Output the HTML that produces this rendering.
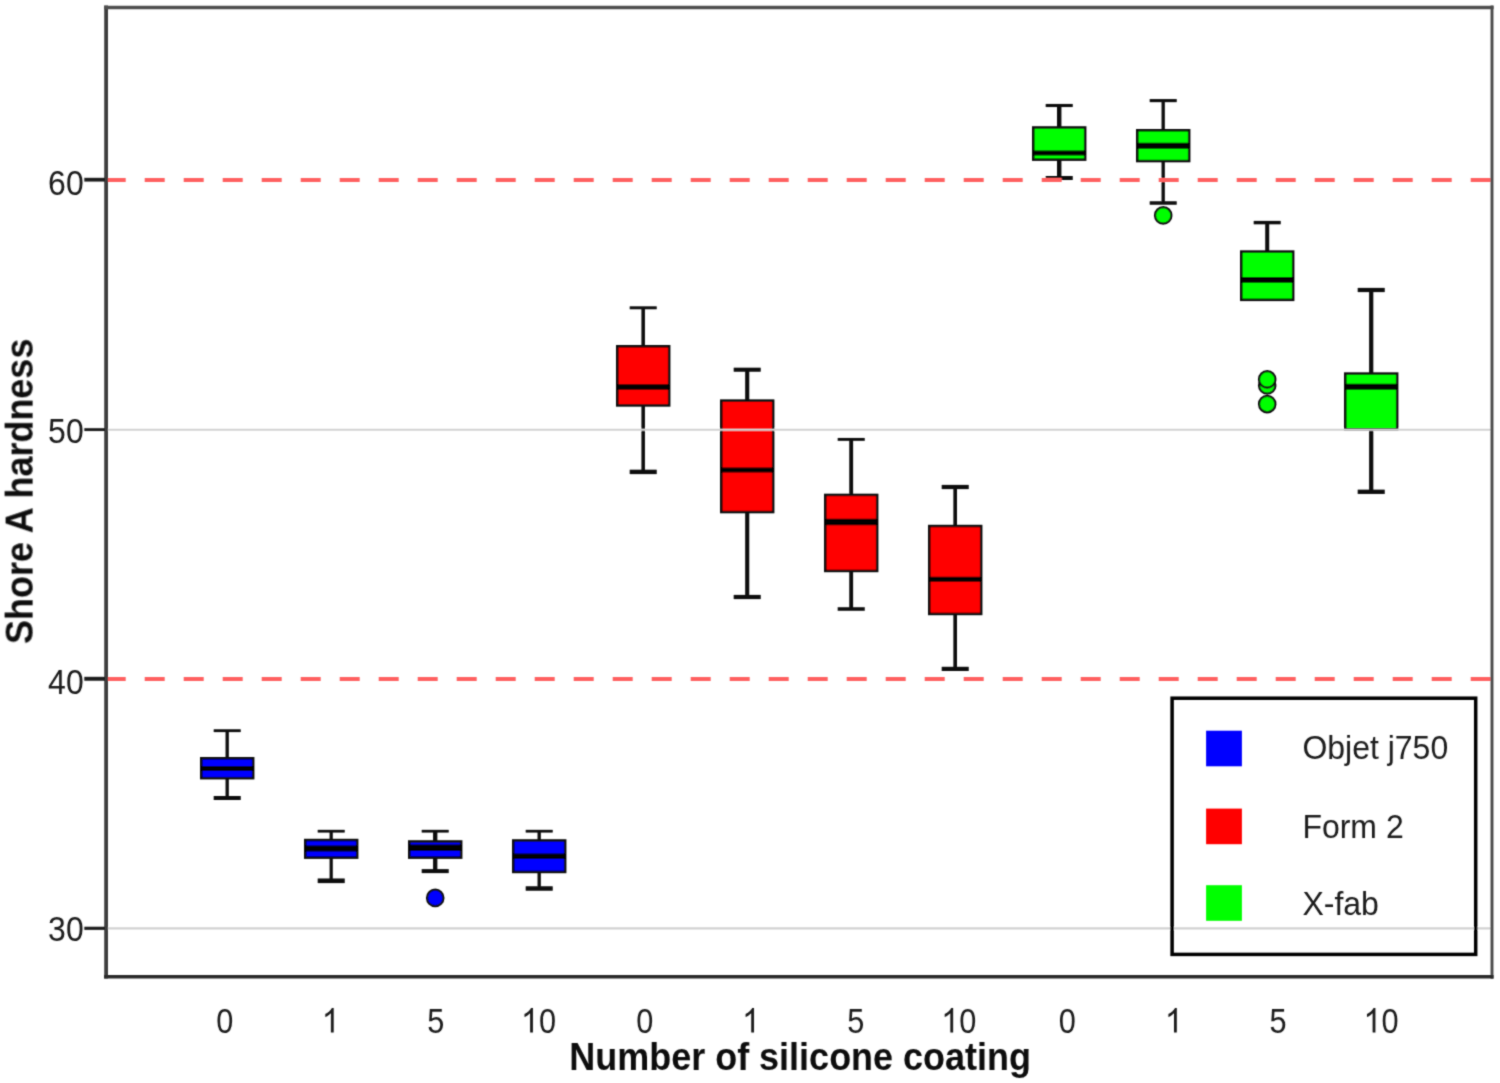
<!DOCTYPE html>
<html><head><meta charset="utf-8"><title>Shore A hardness</title>
<style>
html,body{margin:0;padding:0;background:#fff;}
body{width:1500px;height:1083px;overflow:hidden;font-family:"Liberation Sans",sans-serif;}
svg{display:block;}
</style></head><body>
<svg width="1500" height="1083" viewBox="0 0 1500 1083">
<defs><filter id="soft" x="0" y="0" width="1500" height="1083" filterUnits="userSpaceOnUse"><feConvolveMatrix order="3" kernelMatrix="0.03 0.1 0.03 0.1 0.48 0.1 0.03 0.1 0.03" divisor="1" edgeMode="duplicate" preserveAlpha="false"/></filter></defs>
<rect x="0" y="0" width="1500" height="1083" fill="#ffffff"/>
<g filter="url(#soft)">
<g stroke="#0a0a0a" fill="none">
<line x1="227.2" y1="730.7" x2="227.2" y2="758.0" stroke-width="3.3"/>
<line x1="213.7" y1="730.7" x2="240.7" y2="730.7" stroke-width="2.8"/>
<line x1="227.2" y1="778.4" x2="227.2" y2="798.0" stroke-width="3.3"/>
<line x1="213.7" y1="798.0" x2="240.7" y2="798.0" stroke-width="4.0"/>
<rect x="201.25" y="758.25" width="51.90" height="19.90" fill="#0000ff" stroke-width="2.5"/>
<line x1="201.0" y1="768.5" x2="253.39999999999998" y2="768.5" stroke-width="4.8" stroke="#000"/>
</g>
<g stroke="#0a0a0a" fill="none">
<line x1="331.2" y1="831.2" x2="331.2" y2="839.8" stroke-width="3.2"/>
<line x1="317.7" y1="831.2" x2="344.7" y2="831.2" stroke-width="2.7"/>
<line x1="331.2" y1="857.9" x2="331.2" y2="880.8" stroke-width="3.2"/>
<line x1="317.7" y1="880.8" x2="344.7" y2="880.8" stroke-width="4.6"/>
<rect x="305.25" y="840.05" width="51.90" height="17.60" fill="#0000ff" stroke-width="2.5"/>
<line x1="305.0" y1="848.5" x2="357.4" y2="848.5" stroke-width="6.2" stroke="#000"/>
</g>
<g stroke="#0a0a0a" fill="none">
<line x1="435.2" y1="831.2" x2="435.2" y2="841.2" stroke-width="4.3"/>
<line x1="421.7" y1="831.2" x2="448.7" y2="831.2" stroke-width="2.7"/>
<line x1="435.2" y1="857.9" x2="435.2" y2="871.1" stroke-width="4.3"/>
<line x1="421.7" y1="871.1" x2="448.7" y2="871.1" stroke-width="4.0"/>
<rect x="409.25" y="841.45" width="51.90" height="16.20" fill="#0000ff" stroke-width="2.5"/>
<line x1="409.0" y1="847.8" x2="461.4" y2="847.8" stroke-width="6.6" stroke="#000"/>
<circle cx="435.2" cy="897.9" r="8.2" fill="#0000ff" stroke="#111" stroke-width="2.2"/>
</g>
<g stroke="#0a0a0a" fill="none">
<line x1="539.2" y1="831.2" x2="539.2" y2="840.2" stroke-width="3.3"/>
<line x1="525.7" y1="831.2" x2="552.7" y2="831.2" stroke-width="2.7"/>
<line x1="539.2" y1="872.2" x2="539.2" y2="888.5" stroke-width="3.3"/>
<line x1="525.7" y1="888.5" x2="552.7" y2="888.5" stroke-width="4.4"/>
<rect x="513.25" y="840.45" width="51.90" height="31.50" fill="#0000ff" stroke-width="2.5"/>
<line x1="513.0" y1="856.3" x2="565.4000000000001" y2="856.3" stroke-width="5.6" stroke="#000"/>
</g>
<g stroke="#0a0a0a" fill="none">
<line x1="643.2" y1="307.8" x2="643.2" y2="346.0" stroke-width="3.5"/>
<line x1="629.7" y1="307.8" x2="656.7" y2="307.8" stroke-width="2.9"/>
<line x1="643.2" y1="405.7" x2="643.2" y2="471.9" stroke-width="3.5"/>
<line x1="629.7" y1="471.9" x2="656.7" y2="471.9" stroke-width="4.4"/>
<rect x="617.25" y="346.25" width="51.90" height="59.20" fill="#ff0000" stroke-width="2.5"/>
<line x1="617.0" y1="387.0" x2="669.4000000000001" y2="387.0" stroke-width="5.5" stroke="#000"/>
</g>
<g stroke="#0a0a0a" fill="none">
<line x1="747.2" y1="369.7" x2="747.2" y2="400.4" stroke-width="4.1"/>
<line x1="733.7" y1="369.7" x2="760.7" y2="369.7" stroke-width="4.0"/>
<line x1="747.2" y1="512.3" x2="747.2" y2="597.0" stroke-width="4.1"/>
<line x1="733.7" y1="597.0" x2="760.7" y2="597.0" stroke-width="4.2"/>
<rect x="721.25" y="400.65" width="51.90" height="111.40" fill="#ff0000" stroke-width="2.5"/>
<line x1="721.0" y1="470.0" x2="773.4000000000001" y2="470.0" stroke-width="5.0" stroke="#000"/>
</g>
<g stroke="#0a0a0a" fill="none">
<line x1="851.2" y1="439.4" x2="851.2" y2="494.7" stroke-width="3.8"/>
<line x1="837.7" y1="439.4" x2="864.7" y2="439.4" stroke-width="2.9"/>
<line x1="851.2" y1="571.2" x2="851.2" y2="609.0" stroke-width="3.8"/>
<line x1="837.7" y1="609.0" x2="864.7" y2="609.0" stroke-width="3.6"/>
<rect x="825.25" y="494.95" width="51.90" height="76.00" fill="#ff0000" stroke-width="2.5"/>
<line x1="825.0" y1="522.1" x2="877.4000000000001" y2="522.1" stroke-width="6.5" stroke="#000"/>
</g>
<g stroke="#0a0a0a" fill="none">
<line x1="955.2" y1="487.0" x2="955.2" y2="525.8" stroke-width="3.6"/>
<line x1="941.7" y1="487.0" x2="968.7" y2="487.0" stroke-width="4.2"/>
<line x1="955.2" y1="614.2" x2="955.2" y2="668.9" stroke-width="3.6"/>
<line x1="941.7" y1="668.9" x2="968.7" y2="668.9" stroke-width="4.2"/>
<rect x="929.25" y="526.05" width="51.90" height="87.90" fill="#ff0000" stroke-width="2.5"/>
<line x1="929.0" y1="579.2" x2="981.4000000000001" y2="579.2" stroke-width="5.0" stroke="#000"/>
</g>
<g stroke="#0a0a0a" fill="none">
<line x1="1059.2" y1="105.5" x2="1059.2" y2="127.2" stroke-width="4.4"/>
<line x1="1045.7" y1="105.5" x2="1072.7" y2="105.5" stroke-width="3.1"/>
<line x1="1059.2" y1="159.9" x2="1059.2" y2="178.0" stroke-width="4.4"/>
<line x1="1045.7" y1="178.0" x2="1072.7" y2="178.0" stroke-width="4.0"/>
<rect x="1033.25" y="127.45" width="51.90" height="32.20" fill="#00ff00" stroke-width="2.5"/>
<line x1="1033.0" y1="153.0" x2="1085.4" y2="153.0" stroke-width="5.2" stroke="#000"/>
</g>
<g stroke="#0a0a0a" fill="none">
<line x1="1163.2" y1="100.6" x2="1163.2" y2="130.0" stroke-width="3.3"/>
<line x1="1149.7" y1="100.6" x2="1176.7" y2="100.6" stroke-width="3.1"/>
<line x1="1163.2" y1="161.3" x2="1163.2" y2="203.0" stroke-width="3.3"/>
<line x1="1149.7" y1="203.0" x2="1176.7" y2="203.0" stroke-width="3.4"/>
<rect x="1137.25" y="130.25" width="51.90" height="30.80" fill="#00ff00" stroke-width="2.5"/>
<line x1="1137.0" y1="145.8" x2="1189.4" y2="145.8" stroke-width="6.0" stroke="#000"/>
<circle cx="1163.2" cy="215.4" r="8.2" fill="#00ff00" stroke="#111" stroke-width="2.2"/>
</g>
<g stroke="#0a0a0a" fill="none">
<line x1="1267.2" y1="222.6" x2="1267.2" y2="251.3" stroke-width="4.0"/>
<line x1="1253.7" y1="222.6" x2="1280.7" y2="222.6" stroke-width="3.4"/>
<rect x="1241.25" y="251.55" width="51.90" height="48.30" fill="#00ff00" stroke-width="2.5"/>
<line x1="1241.0" y1="279.8" x2="1293.4" y2="279.8" stroke-width="5.8" stroke="#000"/>
<circle cx="1267.2" cy="385.5" r="8.2" fill="#00ff00" stroke="#111" stroke-width="2.2"/>
<circle cx="1267.2" cy="379.4" r="8.2" fill="#00ff00" stroke="#111" stroke-width="2.2"/>
<circle cx="1267.2" cy="404.1" r="8.2" fill="#00ff00" stroke="#111" stroke-width="2.2"/>
</g>
<g stroke="#0a0a0a" fill="none">
<line x1="1371.2" y1="290.0" x2="1371.2" y2="373.3" stroke-width="4.2"/>
<line x1="1357.7" y1="290.0" x2="1384.7" y2="290.0" stroke-width="4.2"/>
<line x1="1371.2" y1="429.6" x2="1371.2" y2="491.8" stroke-width="4.2"/>
<line x1="1357.7" y1="491.8" x2="1384.7" y2="491.8" stroke-width="4.3"/>
<rect x="1345.25" y="373.55" width="51.90" height="55.80" fill="#00ff00" stroke-width="2.5"/>
<line x1="1345.0" y1="386.7" x2="1397.4" y2="386.7" stroke-width="6.0" stroke="#000"/>
</g>
<line x1="108" y1="429.8" x2="1491" y2="429.8" stroke="#d2d2d2" stroke-width="2.1"/>
<line x1="108" y1="928.4" x2="1491" y2="928.4" stroke="#d2d2d2" stroke-width="2.1"/>
<line x1="105.7" y1="180.1" x2="1491" y2="180.1" stroke="#ff6060" stroke-width="4.0" stroke-dasharray="20 19"/>
<line x1="105.7" y1="679.0" x2="1491" y2="679.0" stroke="#ff6060" stroke-width="4.0" stroke-dasharray="20 19"/>
<g stroke="#3e3e3e" fill="none">
<line x1="106.1" y1="5.6" x2="106.1" y2="978.5" stroke-width="3.8"/>
<line x1="104" y1="7.5" x2="1493.6" y2="7.5" stroke-width="3.3" stroke="#505050"/>
<line x1="1492.0" y1="5.6" x2="1492.0" y2="978.7" stroke-width="2.9" stroke="#4c4c4c"/>
<line x1="104" y1="976.7" x2="1493.6" y2="976.8" stroke-width="3.5" stroke="#2a2a2a"/>
</g>
<line x1="84.3" y1="179.7" x2="105" y2="179.7" stroke="#1e1e1e" stroke-width="3.8"/>
<line x1="84.3" y1="429.6" x2="105" y2="429.6" stroke="#1e1e1e" stroke-width="2.9"/>
<line x1="84.3" y1="678.8" x2="105" y2="678.8" stroke="#1e1e1e" stroke-width="3.9"/>
<line x1="84.3" y1="928.3" x2="105" y2="928.3" stroke="#1e1e1e" stroke-width="3.2"/>
<rect x="1172.1" y="698.2" width="303.6" height="256.2" fill="none" stroke="#000" stroke-width="3.5"/>
<rect x="1206.1" y="730.7" width="35.8" height="35.6" fill="#0000ff"/>
<rect x="1206.1" y="808.6" width="35.8" height="35.6" fill="#ff0000"/>
<rect x="1206.1" y="885.2" width="35.8" height="35.6" fill="#00ff00"/>
<g font-family="'Liberation Sans', sans-serif" font-size="32" fill="#1a1a1a">
<text transform="translate(1302.4 759.4) scale(1 1.04)" text-anchor="start">Objet j750</text>
<text transform="translate(1302.4 837.5) scale(1 1.04)" text-anchor="start">Form 2</text>
<text transform="translate(1302.4 915.3) scale(1 1.04)" text-anchor="start">X-fab</text>
<text transform="translate(83.7 195.0) scale(1.0 1.1)" text-anchor="end">60</text>
<text transform="translate(83.7 443.0) scale(1.0 1.1)" text-anchor="end">50</text>
<text transform="translate(83.7 693.8) scale(1.0 1.1)" text-anchor="end">40</text>
<text transform="translate(83.7 941.4) scale(1.0 1.1)" text-anchor="end">30</text>
<text transform="translate(224.8 1032.5) scale(0.96 1.1)" text-anchor="middle">0</text>
<path transform="translate(321.80 1032.5) scale(0.015625 -0.01671875)" d="M763 0L583 0L583 1147Q518 1085 412.5 1023Q307 961 223 930L223 1104Q374 1175 487 1276Q600 1377 647 1472L763 1472Z"/>
<text transform="translate(435.8 1032.5) scale(0.96 1.1)" text-anchor="middle">5</text>
<path transform="translate(521.00 1032.5) scale(0.015625 -0.01671875)" d="M763 0L583 0L583 1147Q518 1085 412.5 1023Q307 961 223 930L223 1104Q374 1175 487 1276Q600 1377 647 1472L763 1472Z"/>
<text transform="translate(539.0999999999999 1032.5) scale(0.96 1.1)" text-anchor="start">0</text>
<text transform="translate(644.8 1032.5) scale(0.96 1.1)" text-anchor="middle">0</text>
<path transform="translate(742.10 1032.5) scale(0.015625 -0.01671875)" d="M763 0L583 0L583 1147Q518 1085 412.5 1023Q307 961 223 930L223 1104Q374 1175 487 1276Q600 1377 647 1472L763 1472Z"/>
<text transform="translate(855.8 1032.5) scale(0.96 1.1)" text-anchor="middle">5</text>
<path transform="translate(941.20 1032.5) scale(0.015625 -0.01671875)" d="M763 0L583 0L583 1147Q518 1085 412.5 1023Q307 961 223 930L223 1104Q374 1175 487 1276Q600 1377 647 1472L763 1472Z"/>
<text transform="translate(959.3 1032.5) scale(0.96 1.1)" text-anchor="start">0</text>
<text transform="translate(1067.2 1032.5) scale(0.96 1.1)" text-anchor="middle">0</text>
<path transform="translate(1164.90 1032.5) scale(0.015625 -0.01671875)" d="M763 0L583 0L583 1147Q518 1085 412.5 1023Q307 961 223 930L223 1104Q374 1175 487 1276Q600 1377 647 1472L763 1472Z"/>
<text transform="translate(1278.0 1032.5) scale(0.96 1.1)" text-anchor="middle">5</text>
<path transform="translate(1363.50 1032.5) scale(0.015625 -0.01671875)" d="M763 0L583 0L583 1147Q518 1085 412.5 1023Q307 961 223 930L223 1104Q374 1175 487 1276Q600 1377 647 1472L763 1472Z"/>
<text transform="translate(1381.6 1032.5) scale(0.96 1.1)" text-anchor="start">0</text>
</g>
<g font-family="'Liberation Sans', sans-serif" font-size="36" font-weight="bold" fill="#0c0c0c">
<text transform="translate(569.2 1070.5) scale(1 1.06)" text-anchor="start">Number of silicone coating</text>
<text transform="translate(33.0 491.3) rotate(-90) scale(1 1.07)" text-anchor="middle">Shore A hardness</text>
</g>
</g>
</svg>
</body></html>
